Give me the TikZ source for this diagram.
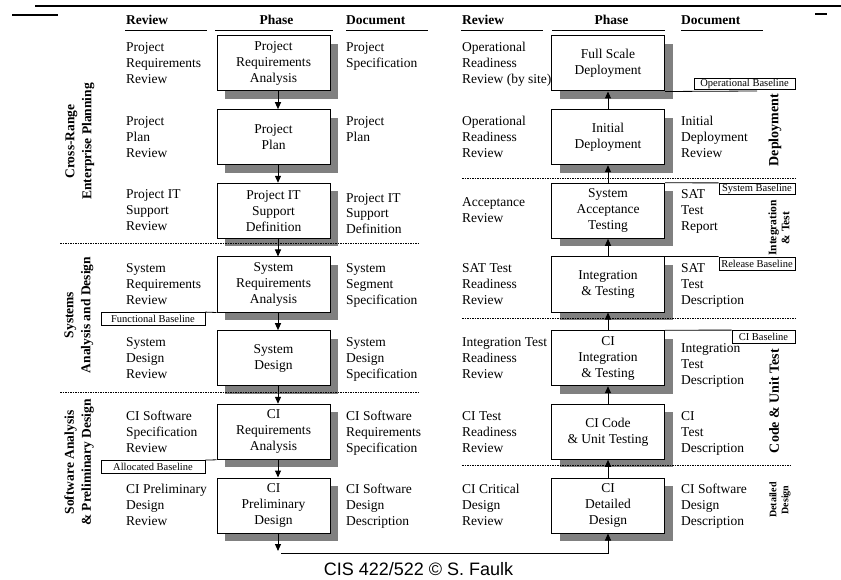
\documentclass[tikz,border=0pt]{standalone}
\usepackage{fontspec}
\setmainfont{Liberation Serif}
\newfontfamily\footfont{Liberation Sans}
\usetikzlibrary{arrows.meta,shadows}
\definecolor{shadowgray}{RGB}{128,128,128}
\newcommand{\mainsz}{\fontsize{13.5}{16}\selectfont}
\begin{document}
\begin{tikzpicture}[x=1pt,y=-1pt,
  every node/.style={inner sep=0pt},
  phasebox/.style={draw, line width=1pt, fill=white, minimum width=113pt, minimum height=55pt, align=center, font=\mainsz,
    drop shadow={shadow xshift=8pt, shadow yshift=-8pt, fill=shadowgray, opacity=1}},
  txt/.style={font=\mainsz, align=left, anchor=north west},
  head/.style={font=\mainsz\bfseries},
  headline/.style={line width=0.9pt},
  cat/.style={font=\fontsize{13.5}{17}\selectfont\bfseries, align=center, rotate=90},
  bbox/.style={draw, line width=0.8pt, fill=white, font=\fontsize{10.5}{11}\selectfont, minimum height=13pt},
  blink/.style={line width=0.8pt},
  sep/.style={line width=0.8pt, dash pattern=on 1.5pt off 1pt},
  arr/.style={line width=1pt, -{Triangle[length=7pt,width=6pt]}},
]
\fill[white] (0,0) rectangle (841,580);
\useasboundingbox (0,0) rectangle (841,580);

% top rules
\draw[line width=1.2pt] (35,6) -- (841,6);
\draw[line width=2.5pt] (35,6) -- (58,6);
\draw[line width=2.5pt] (12,15) -- (58,15);
\draw[line width=2.5pt] (815,14) -- (827,14);

% headers
\node[head, anchor=base west] (hrevL) at (126,25) {Review};
\node[head, anchor=base] (hphL) at (276.5,25) {Phase};
\node[head, anchor=base west] (hdocL) at (346,25) {Document};
\node[head, anchor=base west] (hrevR) at (462,25) {Review};
\node[head, anchor=base] (hphR) at (611.5,25) {Phase};
\node[head, anchor=base west] (hdocR) at (681,25) {Document};
\draw[headline] (125,30) -- (207,30);
\draw[headline] (215,30) -- (333,30);
\draw[headline] (346,30) -- (428,30);
\draw[headline] (461,30) -- (543,30);
\draw[headline] (552,30) -- (665,30);
\draw[headline] (681,30) -- (763,30);

% left phase boxes
\node[phasebox] (L1) at (273.5,63.5) {Project\\Requirements\\Analysis};
\node[phasebox] (L2) at (273.5,137.2) {Project\\Plan};
\node[phasebox] (L3) at (273.5,210.8) {Project IT\\Support\\Definition};
\node[phasebox] (L4) at (273.5,284.5) {System\\Requirements\\Analysis};
\node[phasebox] (L5) at (273.5,358.2) {System\\Design};
\node[phasebox] (L6) at (273.5,431.8) {CI\\Requirements\\Analysis};
\node[phasebox] (L7) at (273.5,505.5) {CI\\Preliminary\\Design};

% right phase boxes
\node[phasebox] (R1) at (608,63.5) {Full Scale\\Deployment};
\node[phasebox] (R2) at (608,137.2) {Initial\\Deployment};
\node[phasebox] (R3) at (608,210.8) {System\\Acceptance\\Testing};
\node[phasebox] (R4) at (608,284.5) {Integration\\\& Testing};
\node[phasebox] (R5) at (608,358.2) {CI\\Integration\\\& Testing};
\node[phasebox] (R6) at (608,431.8) {CI Code\\\& Unit Testing};
\node[phasebox] (R7) at (608,505.5) {CI\\Detailed\\Design};

% left reviews
\node[txt] (lr1) at (126,40.3) {\strut Project\\Requirements\\Review};
\node[txt] (lr2) at (126,114.0) {\strut Project\\Plan\\Review};
\node[txt] (lr3) at (126,187.6) {\strut Project IT\\Support\\Review};
\node[txt] (lr4) at (126,261.3) {\strut System\\Requirements\\Review};
\node[txt] (lr5) at (126,335.0) {\strut System\\Design\\Review};
\node[txt] (lr6) at (126,408.6) {\strut CI Software\\Specification\\Review};
\node[txt] (lr7) at (126,482.3) {\strut CI Preliminary\\Design\\Review};

% left documents
\node[txt] (ld1) at (346,40.3) {\strut Project\\Specification};
\node[txt] (ld2) at (346,114.0) {\strut Project\\Plan};
\node[txt] (ld3) at (346,190.6) {\strut Project IT\\Support\\Definition};
\node[txt] (ld4) at (346,261.3) {\strut System\\Segment\\Specification};
\node[txt] (ld5) at (346,335.0) {\strut System\\Design\\Specification};
\node[txt] (ld6) at (346,408.6) {\strut CI Software\\Requirements\\Specification};
\node[txt] (ld7) at (346,482.3) {\strut CI Software\\Design\\Description};

% right reviews
\node[txt] (rr1) at (462,40.3) {\strut Operational\\Readiness\\Review (by site)};
\node[txt] (rr2) at (462,114.0) {\strut Operational\\Readiness\\Review};
\node[txt] (rr3) at (462,195.6) {\strut Acceptance\\Review};
\node[txt] (rr4) at (462,261.3) {\strut SAT Test\\Readiness\\Review};
\node[txt] (rr5) at (462,335.0) {\strut Integration Test\\Readiness\\Review};
\node[txt] (rr6) at (462,408.6) {\strut CI Test\\Readiness\\Review};
\node[txt] (rr7) at (462,482.3) {\strut CI Critical\\Design\\Review};

% right documents
\node[txt] (rd2) at (681,114.0) {\strut Initial\\Deployment\\Review};
\node[txt] (rd3) at (681,187.6) {\strut SAT\\Test\\Report};
\node[txt] (rd4) at (681,261.3) {\strut SAT\\Test\\Description};
\node[txt] (rd5) at (681,341.0) {\strut Integration\\Test\\Description};
\node[txt] (rd6) at (681,408.6) {\strut CI\\Test\\Description};
\node[txt] (rd7) at (681,482.3) {\strut CI Software\\Design\\Description};

% category labels
\node[cat] (c1) at (80,141.5) {Cross-Range\\Enterprise Planning};
\node[cat] (c2) at (79,315) {Systems\\Analysis and Design};
\node[cat] (c3) at (79,462.5) {Software Analysis\\\& Preliminary Design};
\node[cat, font=\fontsize{14}{17}\selectfont\bfseries] (c4) at (775,130) {Deployment};
\node[cat, font=\fontsize{11.5}{13}\selectfont\bfseries] (c5) at (779,228) {Integration\\\& Test};
\node[cat, font=\fontsize{14}{17}\selectfont\bfseries] (c6) at (774,401) {Code \& Unit Test};
\node[cat, font=\fontsize{10}{12}\selectfont\bfseries] (c7) at (780,500) {Detailed\\Design};

% separators
\draw[sep] (60,243) -- (420,243);
\draw[sep] (60,392) -- (420,392);
\draw[sep] (462,178) -- (796,178);
\draw[sep] (462,318) -- (796,318);
\draw[sep] (462,465) -- (790,465);

% baselines
\node[bbox, minimum width=104pt] (fb) at (153,319) {Functional Baseline};
\node[bbox, minimum width=104pt] (ab) at (153,467) {Allocated Baseline};
\node[bbox, minimum width=101pt, minimum height=11pt] (ob) at (744.5,83.5) {Operational Baseline};
\node[bbox, minimum width=76pt, minimum height=11pt] (sb) at (757,188.8) {System Baseline};
\node[bbox, minimum width=76pt] (rb) at (757,263.5) {Release Baseline};
\node[bbox, minimum width=63pt] (cb) at (763.5,337) {CI Baseline};
\coordinate (oe) at (757,91);
\draw[blink] (fb.north east) -- (L4.south west);
\draw[blink] (ab.north east) -- (L6.south west);
\draw[blink] (R1.south east) -- (oe);
\draw[blink] (R3.north east) -- (sb.north west);
\draw[blink] (R4.north east) -- (rb.north west);
\draw[blink] (R5.north east) -- (cb.north west);

% arrows
\draw[arr] ([xshift=4.5pt]L1.south) -- ([xshift=4.5pt]L2.north);
\draw[arr] ([xshift=4.5pt]L2.south) -- ([xshift=4.5pt]L3.north);
\draw[arr] ([xshift=4.5pt]L3.south) -- ([xshift=4.5pt]L4.north);
\draw[arr] ([xshift=4.5pt]L4.south) -- ([xshift=4.5pt]L5.north);
\draw[arr] ([xshift=4.5pt]L5.south) -- ([xshift=4.5pt]L6.north);
\draw[arr] ([xshift=4.5pt]L6.south) -- ([xshift=4.5pt]L7.north);
\draw[arr] (R2.north) -- (R1.south);
\draw[arr] (R3.north) -- (R2.south);
\draw[arr] (R4.north) -- (R3.south);
\draw[arr] (R5.north) -- (R4.south);
\draw[arr] (R6.north) -- (R5.south);
\draw[arr] (R7.north) -- (R6.south);
\coordinate (bdown) at (278,551);
\coordinate (bturn) at (281,553);
\draw[arr] ([xshift=4.5pt]L7.south) -- (bdown);
\draw[arr] (bturn) -| (R7.south);

% footer
\node[font=\footfont\fontsize{18}{20}\selectfont, anchor=base] (foot) at (418.5,575) {CIS 422/522 © S. Faulk};
\end{tikzpicture}
\end{document}
